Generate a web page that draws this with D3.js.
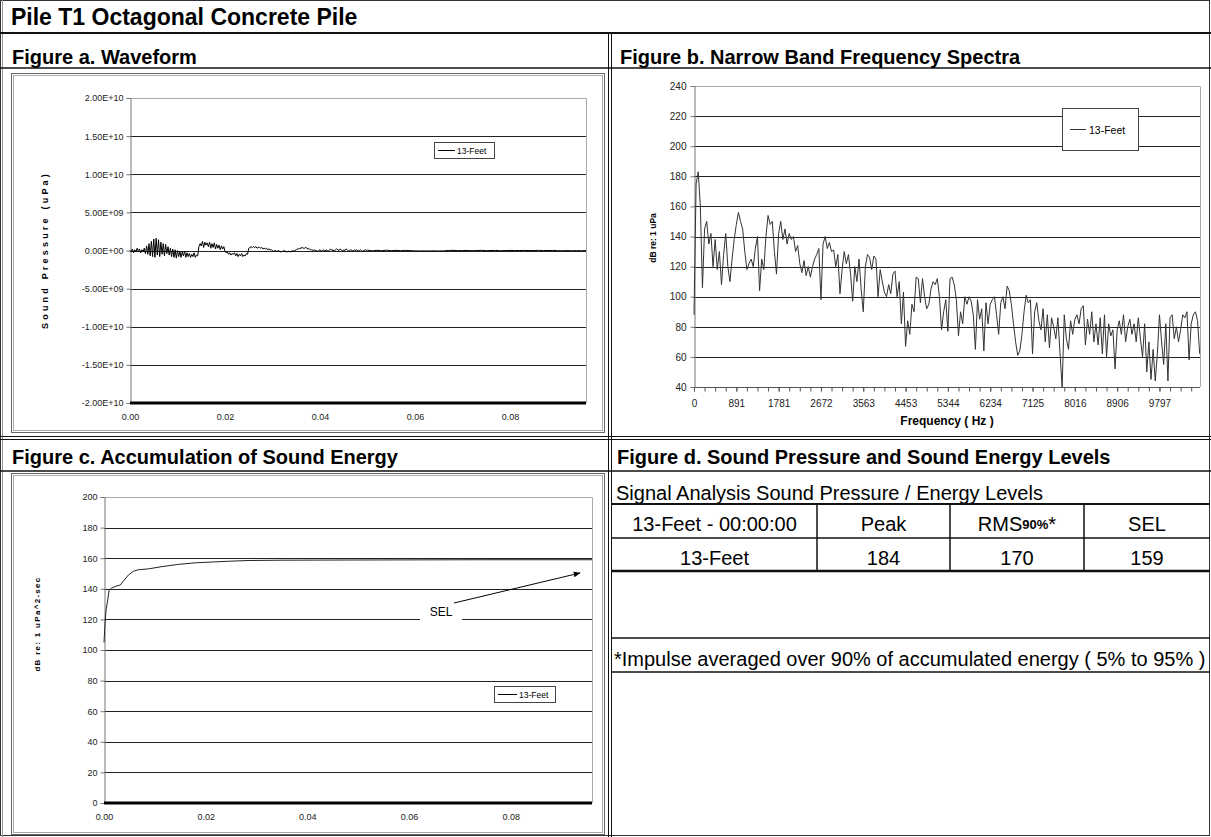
<!DOCTYPE html>
<html><head><meta charset="utf-8">
<script src="https://cdn.jsdelivr.net/npm/d3@7"></script>
<style>
html,body{margin:0;padding:0;background:#fff;}
svg{display:block;font-family:"Liberation Sans",Arial,Helvetica,sans-serif;}
</style></head><body>
<svg id="chart" width="1211" height="837"></svg>
<script>
// ---------------- DATA ----------------
const seriesName = "13-Feet";
// Figure a: waveform, sound pressure in units of 1E8 uPa
const waveEarlyStart = 0, waveEarlyStep = 0.00025; // seconds
const waveEarly = [
  0,-2,2,-3,1,-2,3,-1,2,-3,1,-2,
  3,-4,6,-5,9,-7,12,-8,15,-9,16,-6,14,-8,11,-5,9,-7,8,-4,
  5,-6,3,-8,2,-9,1,-10,0,-8,-1,-9,-2,-7,-1,-9,-3,-8,
  -4,-9,-5,-8,-3,-9,-6,-7,
  5,9,6,12,4,11,7,10,5,11,3,9,4,10,2,8,3,7,1,6,2,5,
  -1,-3,-2,-5,-3,-6,-4,-5,-3,-7,-4,-8,-5,-7,-4,-8,-6,-7,-4,-5,
  3,4,5,4,5,4,5,3,4,4,3,4,2,3,2,3,1,2,1,1,
  0,-1,0,-1,-1,0,-1,-2,-1,-1,0,-1,-2,-1,-1,-2,-1,0,-1,0,
  1,2,2,3,3,4,3,3,4,3,2,2,1,1,0,1,0,0,-1,0,
  1,-1,0,1,-1,1,0,-1,1,2,0,1,-1,1,2,1,0,2,1,-1,1,0,2,1,-1,0,1,0,-1,1,0,1,-1,0,1,0,-1,0,1,0
];
const waveLateStart = 0.05, waveLateStep = 0.001;
const waveLate = [
  0.5,-0.5,0.3,-0.3,0.4,-0.2,0.2,-0.3,0.1,-0.2,
  -0.5,-0.6,-0.5,-0.6,-0.5,-0.6,-0.5,
  0,0.2,-0.2,0,0.1,-0.3,0,0.2,-0.2,0,0.1,-0.3,0,
  0.1,-0.1,0,0.1,-0.1,0,0.2,-0.1,0,0.1,
  -0.2,-0.3,-0.2,-0.3,-0.2,-0.3,-0.2
];
const waveYTicks = [2e10,1.5e10,1e10,5e9,0,-5e9,-1e10,-1.5e10,-2e10];
const timeTicks = [0,0.02,0.04,0.06,0.08];

// Figure b: narrow band spectrum, dB re 1 uPa, bin step 44.53 Hz
const specStep = 44.53125;
const specDb = [
  88,175,183,160,106,145,150,135,142,120,138,118,130,108,128,142,120,110,125,138,
  148,156,150,145,130,118,122,125,120,132,140,104,125,118,140,154,148,150,130,115,
  142,150,138,145,135,142,138,140,130,134,122,116,124,114,120,113,120,125,128,132,
  98,135,140,132,136,130,131,120,128,102,118,130,122,128,115,97,120,110,125,105,
  90,120,128,126,118,127,125,100,118,110,103,100,108,102,115,117,100,110,82,103,
  67,84,75,95,90,113,112,96,112,100,92,95,105,110,108,112,100,78,90,98,
  77,112,113,108,98,74,90,82,100,95,100,97,88,65,98,85,92,64,96,82,
  95,98,100,88,75,96,100,92,107,104,95,82,70,61,64,75,90,101,96,98,
  62,90,96,84,78,92,70,88,66,86,80,72,86,62,40,88,72,65,84,75,
  85,88,82,92,94,68,85,75,90,70,82,68,86,62,88,60,82,74,78,52,
  78,84,75,88,70,80,85,75,82,70,86,72,60,82,50,70,45,65,44,62,
  88,70,55,82,44,86,88,72,80,70,78,88,86,90,58,82,88,90,84,62
];
const specYTicks = [40,60,80,100,120,140,160,180,200,220,240];
const specXLabels = ["0","891","1781","2672","3563","4453","5344","6234","7125","8016","8906","9797"];
const specXLabelStep = 890.625;
const specMaxHz = 10650;

// Figure c: accumulated sound energy
const energyTime = [0,0.0002,0.0004,0.0007,0.001,0.0015,0.0022,0.0032,0.0038,0.0048,0.0058,0.0068,0.0087,0.0114,0.0147,0.018,0.0212,0.0245,0.0285,0.035,0.045,0.06,0.075,0.096];
const energyDb   = [105,117,126,132,139,140.5,141.5,142.5,145,149,151.5,152.5,153,154.5,156,157,157.5,158,158.5,158.7,158.8,158.9,159,159];
const energyYTicks = [0,20,40,60,80,100,120,140,160,180,200];

// Figure d: table
const tableTitle = "Signal Analysis Sound Pressure / Energy Levels";
const tableHeader = ["13-Feet - 00:00:00","Peak","RMS","SEL"];
const tableRow = ["13-Feet","184","170","159"];
const footnote = "*Impulse averaged over 90% of accumulated energy ( 5% to 95% )";

// ---------------- DRAW ----------------
const svg = d3.select("#chart");
const INK = "#111";
function line(x1,y1,x2,y2,w,c){
  return svg.append("line").attr("x1",x1).attr("y1",y1).attr("x2",x2).attr("y2",y2)
    .attr("stroke",c||INK).attr("stroke-width",w||1);
}
function text(x,y,s,size,weight,anchor){
  return svg.append("text").attr("x",x).attr("y",y).attr("dominant-baseline","central")
    .attr("font-size",size).attr("font-weight",weight||"normal")
    .attr("text-anchor",anchor||"start").attr("fill","#000").text(s);
}

// page frame
svg.append("rect").attr("x",0.5).attr("y",0.5).attr("width",1209).attr("height",835)
  .attr("fill","none").attr("stroke","#333");
line(2.5,0,2.5,837,1,"#999");
line(0,33,1211,33,2);
line(0,68,1211,68,1.5);
line(0,436.5,1211,436.5,1);
line(0,439.5,1211,439.5,1);
line(0,471,1211,471,1.5);
line(608.5,33,608.5,837,1);
line(611.5,33,611.5,837,1);

text(11,17,"Pile T1 Octagonal Concrete Pile",23,"bold");
text(12,57,"Figure a. Waveform",20,"bold");
text(620,57,"Figure b. Narrow Band Frequency Spectra",20,"bold");
text(12,457,"Figure c. Accumulation of Sound Energy",20,"bold");
text(617,457,"Figure d. Sound Pressure and Sound Energy Levels",20,"bold");

// chart boxes (double outline)
function chartBox(x,y,w,h){
  svg.append("rect").attr("x",x+0.5).attr("y",y+0.5).attr("width",w).attr("height",h)
    .attr("fill","#fff").attr("stroke","#666");
  svg.append("rect").attr("x",x+2.5).attr("y",y+2.5).attr("width",w-4).attr("height",h-4)
    .attr("fill","none").attr("stroke","#aaa");
}
chartBox(11,73,593,359);
chartBox(11,473,593,361);

function fmtE(v){
  const s = v.toExponential(2); const [m,e] = s.split("e");
  return m + "E" + e[0] + e.slice(1).padStart(2,"0");
}

// generic plot frame
function plotFrame(g,x,y,yTicks,fmt,opts){
  const [x0,x1] = x.range(), [y0,y1] = y.range(); // y0 bottom
  g.append("g").selectAll("line").data(yTicks.filter(v=>v!==y.domain()[0] && v!==y.domain()[1]))
    .join("line").attr("x1",x0).attr("x2",x1).attr("y1",d=>Math.round(y(d))+0.5).attr("y2",d=>Math.round(y(d))+0.5)
    .attr("stroke","#222").attr("stroke-width",1);
  g.append("path").attr("d",`M${x0},${Math.round(y1)+0.5}H${x1+0.5}V${y0}`)
    .attr("fill","none").attr("stroke","#aaa");
  const ax = g.append("g").attr("transform",`translate(${x0+0.5},0)`)
    .call(d3.axisLeft(y).tickValues(yTicks).tickFormat(fmt).tickSize(opts.tick).tickPadding(opts.pad));
  ax.select(".domain").attr("stroke","#777");
  ax.selectAll(".tick line").attr("stroke","#777");
  ax.selectAll("text").attr("font-size",opts.fs).attr("fill","#222").attr("font-family","Liberation Sans, Arial, sans-serif");
  return ax;
}

// ---- Figure a ----
{
  const g = svg.append("g");
  const x = d3.scaleLinear().domain([0,0.096]).range([130,586]);
  const y = d3.scaleLinear().domain([-2e10,2e10]).range([403,98]);
  plotFrame(g,x,y,waveYTicks,fmtE,{tick:4,pad:3,fs:9});
  g.append("line").attr("x1",130).attr("x2",586).attr("y1",403).attr("y2",403).attr("stroke","#000").attr("stroke-width",3);
  const xa = g.append("g").attr("transform","translate(0,403)")
    .call(d3.axisBottom(x).tickValues(timeTicks).tickFormat(d3.format(".2f")).tickSize(0).tickPadding(11));
  xa.select(".domain").remove();
  xa.selectAll("text").attr("font-size",9).attr("fill","#222");
  const pts = waveEarly.map((v,i)=>[waveEarlyStart+i*waveEarlyStep, v*1e8])
    .concat(waveLate.map((v,i)=>[waveLateStart+i*waveLateStep, v*1e8]));
  g.append("path").datum(pts).attr("fill","none").attr("stroke","#000").attr("stroke-width",1)
    .attr("d",d3.line().x(d=>x(d[0])).y(d=>y(d[1])));
  g.append("rect").attr("x",434.5).attr("y",142.5).attr("width",60).attr("height",16).attr("fill","#fff").attr("stroke","#444");
  g.append("line").attr("x1",438).attr("x2",455).attr("y1",150.5).attr("y2",150.5).attr("stroke","#000");
  g.append("text").attr("x",457).attr("y",151).attr("dominant-baseline","central").attr("font-size",8.5).text(seriesName);
  g.append("text").attr("transform","translate(45,250) rotate(-90)").attr("text-anchor","middle")
    .attr("dominant-baseline","central").attr("font-size",9).attr("font-weight","bold").attr("letter-spacing",3.2)
    .text("Sound Pressure (uPa)");
}

// ---- Figure b ----
{
  const g = svg.append("g");
  const x = d3.scaleLinear().domain([0,specMaxHz]).range([694,1200]);
  const y = d3.scaleLinear().domain([40,240]).range([387,86]);
  plotFrame(g,x,y,specYTicks,d3.format("d"),{tick:4,pad:4,fs:10});
  g.append("line").attr("x1",694).attr("x2",1200).attr("y1",387.5).attr("y2",387.5).attr("stroke","#555");
  const minor = d3.range(0,specMaxHz,specXLabelStep/4);
  g.append("g").attr("transform","translate(0,387.5)")
    .call(d3.axisBottom(x).tickValues(minor).tickFormat("").tickSize(4))
    .call(a=>{a.select(".domain").remove(); a.selectAll("line").attr("stroke","#555");});
  const xa = g.append("g").attr("transform","translate(0,387.5)")
    .call(d3.axisBottom(x).tickValues(specXLabels.map((s,i)=>i*specXLabelStep)).tickFormat((d,i)=>specXLabels[i]).tickSize(4).tickPadding(8));
  xa.select(".domain").remove();
  xa.selectAll("line").attr("stroke","#555");
  xa.selectAll("text").attr("font-size",10).attr("fill","#222");
  g.append("text").attr("x",947).attr("y",421).attr("text-anchor","middle").attr("dominant-baseline","central")
    .attr("font-size",12).attr("font-weight","bold").text("Frequency ( Hz )");
  g.append("text").attr("transform","translate(653,238) rotate(-90)").attr("text-anchor","middle")
    .attr("dominant-baseline","central").attr("font-size",8.5).attr("font-weight","bold").text("dB re: 1 uPa");
  g.append("path").datum(specDb).attr("fill","none").attr("stroke","#333").attr("stroke-width",1)
    .attr("d",d3.line().x((d,i)=>x(i*specStep)).y(d=>y(d)));
  g.append("rect").attr("x",1062.5).attr("y",108.5).attr("width",76).attr("height",42).attr("fill","#fff").attr("stroke","#444");
  g.append("line").attr("x1",1070).attr("x2",1086).attr("y1",129.5).attr("y2",129.5).attr("stroke","#333");
  g.append("text").attr("x",1089).attr("y",130).attr("dominant-baseline","central").attr("font-size",10.5).text(seriesName);
}

// ---- Figure c ----
{
  const g = svg.append("g");
  const x = d3.scaleLinear().domain([0,0.096]).range([104,592]);
  const y = d3.scaleLinear().domain([0,200]).range([803,497]);
  plotFrame(g,x,y,energyYTicks,d3.format("d"),{tick:4,pad:3,fs:9});
  g.append("line").attr("x1",104).attr("x2",592).attr("y1",803).attr("y2",803).attr("stroke","#000").attr("stroke-width",3);
  const xa = g.append("g").attr("transform","translate(0,803)")
    .call(d3.axisBottom(x).tickValues(timeTicks).tickFormat(d3.format(".2f")).tickSize(0).tickPadding(11));
  xa.select(".domain").remove();
  xa.selectAll("text").attr("font-size",9).attr("fill","#222");
  g.append("path").datum(energyTime.map((t,i)=>[t,energyDb[i]])).attr("fill","none").attr("stroke","#222").attr("stroke-width",1)
    .attr("d",d3.line().x(d=>x(d[0])).y(d=>y(d[1])));
  g.append("rect").attr("x",494.5).attr("y",686.5).attr("width",61).attr("height",16).attr("fill","#fff").attr("stroke","#444");
  g.append("line").attr("x1",498).attr("x2",517).attr("y1",694.5).attr("y2",694.5).attr("stroke","#000");
  g.append("text").attr("x",519).attr("y",695).attr("dominant-baseline","central").attr("font-size",8.5).text(seriesName);
  g.append("text").attr("transform","translate(37,624) rotate(-90)").attr("text-anchor","middle")
    .attr("dominant-baseline","central").attr("font-size",8).attr("font-weight","bold").attr("letter-spacing",1.3)
    .text("dB re: 1 uPa^2-sec");
  svg.append("defs").append("marker").attr("id","arr").attr("viewBox","0 0 10 10").attr("refX",9).attr("refY",5)
    .attr("markerWidth",7).attr("markerHeight",7).attr("orient","auto")
    .append("path").attr("d","M0,1L10,5L0,9Z").attr("fill","#000");
  g.append("rect").attr("x",420).attr("y",603).attr("width",42).attr("height",19).attr("fill","#fff");
  g.append("text").attr("x",441).attr("y",612).attr("text-anchor","middle").attr("dominant-baseline","central")
    .attr("font-size",12).text("SEL");
  g.append("line").attr("x1",454).attr("y1",603).attr("x2",580).attr("y2",573).attr("stroke","#000")
    .attr("marker-end","url(#arr)");
}

// ---- Figure d table ----
{
  const L = 612, R = 1210;
  text(616,493,tableTitle,20);
  line(L,504,R,504,2);
  line(L,538,R,538,1.5);
  line(L,571,R,571,2.5);
  line(L,638,R,638,1.5);
  line(L,672,R,672,1.5);
  const cols = [612,817,950,1084,1210];
  [817,950,1084].forEach(cx=>line(cx,504,cx,571,1.5));
  tableHeader.forEach((s,i)=>{
    const cx = (cols[i]+cols[i+1])/2;
    const t = text(cx,524,s,20,"normal","middle");
    if (s==="RMS"){
      t.append("tspan").attr("font-size",13).attr("font-weight","bold").text("90%");
      t.append("tspan").text("*");
    }
  });
  tableRow.forEach((s,i)=>{
    const cx = (cols[i]+cols[i+1])/2;
    text(cx,558,s,20,"normal","middle");
  });
  text(614,659,footnote,20);
}
</script>
</body></html>
